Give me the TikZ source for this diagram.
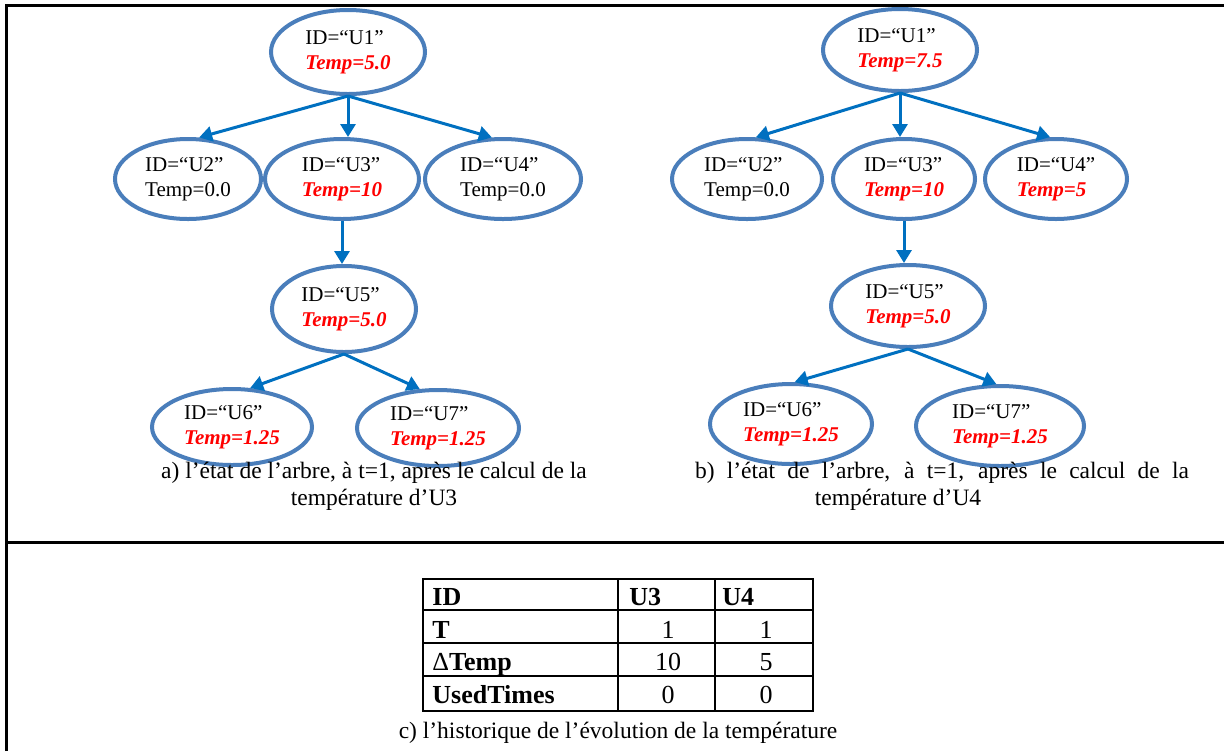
\documentclass[tikz,border=0pt]{standalone}
\usepackage{fontspec}
\setmainfont{Liberation Serif}
\usetikzlibrary{shapes.geometric,arrows.meta}
\definecolor{ellblue}{RGB}{74,126,187}
\definecolor{arrblue}{RGB}{0,112,192}
\definecolor{tred}{RGB}{255,0,0}
\newcommand\hotval[1]{\textcolor{tred}{\textbf{\textit{#1}}}}
\tikzset{
  tnode/.style={ellipse, draw=ellblue, line width=2pt, inner sep=0pt, align=left,
    font=\fontsize{10.5}{12.5}\selectfont},
  arr/.style={draw=arrblue, line width=1.5pt, -{Triangle[length=6.5pt,width=7.5pt]}},
  frameline/.style={line width=1.5pt, black},
  tabout/.style={line width=1.3pt, black},
  tabin/.style={line width=0.8pt, black},
  captxt/.style={font=\fontsize{11.75}{13.5}\selectfont, inner sep=0pt, anchor=base},
  tabtxt/.style={font=\fontsize{13}{15}\selectfont, inner sep=0pt},
}
\begin{document}
\begin{tikzpicture}[x=0.5pt,y=-0.5pt]
\useasboundingbox[fill=white] (0,0) rectangle (1224,751);
% frame
\draw[frameline] (6.5,751) -- (6.5,5.5) -- (1224,5.5);
\draw[frameline] (6.5,542.5) -- (1224,542.5);

% ---------- tree a ----------
\node[tnode, minimum width=77pt, minimum height=42pt] (a1) at (348,52) {ID=“U1”\\\hotval{Temp=5.0}};
\node[tnode, minimum width=73pt, minimum height=40pt] (a2) at (188,179) {ID=“U2”\\Temp=0.0};
\node[tnode, minimum width=77pt, minimum height=40pt] (a3) at (342,179) {ID=“U3”\\\hotval{Temp=10}};
\node[tnode, minimum width=78pt, minimum height=40pt] (a4) at (503,179) {ID=“U4”\\Temp=0.0};
\node[tnode, minimum width=72pt, minimum height=43pt] (a5) at (344,309) {ID=“U5”\\\hotval{Temp=5.0}};
\node[tnode, minimum width=80pt, minimum height=38pt] (a6) at (232,427) {ID=“U6”\\\hotval{Temp=1.25}};
\node[tnode, minimum width=81pt, minimum height=38pt] (a7) at (438,428) {ID=“U7”\\\hotval{Temp=1.25}};
\draw[arr] (a1.south) -- (a2.75);
\draw[arr] (a1.south) -- (a1.south |- a3.north);
\draw[arr] (a1.south) -- (a4.105);
\draw[arr] (a3.south) -- (a3.south |- a5.north);
\draw[arr] (a5.south) -- (a6.65);
\draw[arr] (a5.south) -- (a7.115);

% ---------- tree b ----------
\node[tnode, minimum width=77pt, minimum height=41pt] (b1) at (900,50) {ID=“U1”\\\hotval{Temp=7.5}};
\node[tnode, minimum width=75pt, minimum height=40pt] (b2) at (747,179) {ID=“U2”\\Temp=0.0};
\node[tnode, minimum width=71pt, minimum height=40pt] (b3) at (904,179) {ID=“U3”\\\hotval{Temp=10}};
\node[tnode, minimum width=71pt, minimum height=40pt] (b4) at (1056,179) {ID=“U4”\\\hotval{Temp=5}};
\node[tnode, minimum width=77pt, minimum height=41pt] (b5) at (908,306) {ID=“U5”\\\hotval{Temp=5.0}};
\node[tnode, minimum width=81pt, minimum height=40pt] (b6) at (791,424) {ID=“U6”\\\hotval{Temp=1.25}};
\node[tnode, minimum width=84pt, minimum height=40pt] (b7) at (1000,426) {ID=“U7”\\\hotval{Temp=1.25}};
\draw[arr] (b1.south) -- (b2.78);
\draw[arr] (b1.south) -- (b1.south |- b3.north);
\draw[arr] (b1.south) -- (b4.98);
\draw[arr] (b3.south) -- (b3.south |- b5.north);
\draw[arr] (b5.south) -- (b6.85);
\draw[arr] (b5.south) -- (b7.95);

% ---------- captions ----------
\node[captxt] (capa1) at (374,478) {a) l’état de l’arbre, à t=1, après le calcul de la};
\node[captxt] (capa2) at (374,505) {température d’U3};
\node[captxt] (capb1) at (942,478) {\makebox[247pt][s]{b) l’état de l’arbre, à t=1, après le calcul de la}};
\node[captxt] (capb2) at (898,505) {température d’U4};

% ---------- table ----------
\draw[tabin] (423,610) -- (813,610);
\draw[tabin] (423,643) -- (813,643);
\draw[tabin] (423,676) -- (813,676);
\draw[tabin] (618,579) -- (618,711);
\draw[tabin] (715,579) -- (715,711);
\draw[tabout] (423,579) rectangle (813,711);

\node[tabtxt, anchor=base west] (hID) at (432,605) {\textbf{ID}};
\node[tabtxt, anchor=base west] (hU3) at (629,605) {\textbf{U3}};
\node[tabtxt, anchor=base west] (hU4) at (722,605) {\textbf{U4}};
\node[tabtxt, anchor=base west] (rT) at (432,638) {\textbf{T}};
\node[tabtxt, anchor=base west] (rD) at (432,670) {Δ\textbf{Temp}};
\node[tabtxt, anchor=base west] (rU) at (432,703) {\textbf{UsedTimes}};
\node[tabtxt, anchor=base] (v11) at (668,638) {1};
\node[tabtxt, anchor=base] (v12) at (766,638) {1};
\node[tabtxt, anchor=base] (v21) at (668,670) {10};
\node[tabtxt, anchor=base] (v22) at (766,670) {5};
\node[tabtxt, anchor=base] (v31) at (668,703) {0};
\node[tabtxt, anchor=base] (v32) at (766,703) {0};

\node[captxt] (capc) at (618,738) {c) l’historique de l’évolution de la température};
\end{tikzpicture}
\end{document}
